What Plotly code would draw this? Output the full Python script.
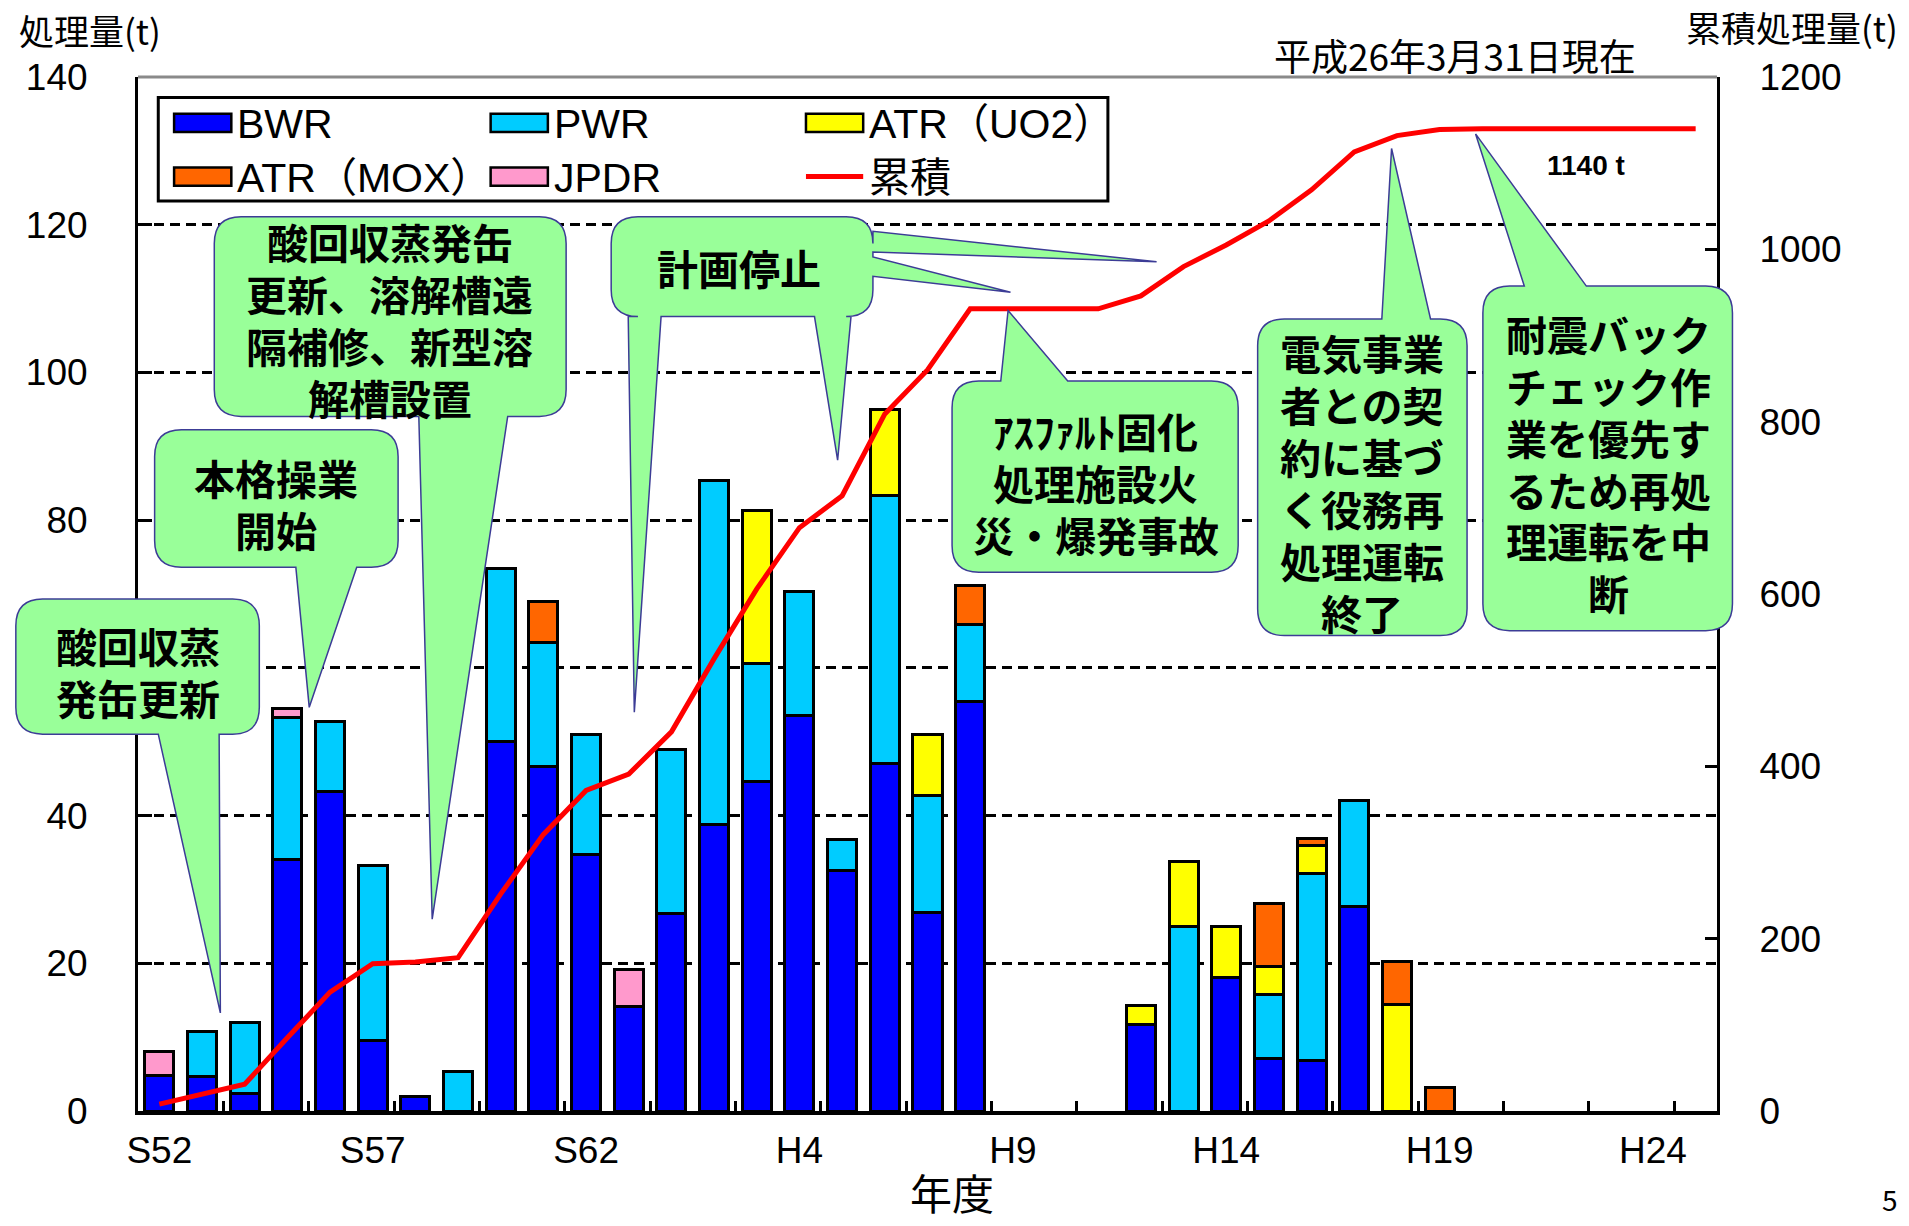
import plotly.graph_objects as go

# ---------------- data ----------------
fiscal_years = ["S52", "S53", "S54", "S55", "S56", "S57", "S58", "S59", "S60", "S61", "S62", "S63",
                "H1", "H2", "H3", "H4", "H5", "H6", "H7", "H8", "H9", "H10", "H11", "H12", "H13",
                "H14", "H15", "H16", "H17", "H18", "H19", "H20", "H21", "H22", "H23", "H24", "H25"]

bwr = [4.8, 4.7, 2.4, 34.1, 43.3, 9.5, 1.9, 0, 50.0, 46.6, 34.7, 14.2,
       26.8, 38.8, 44.6, 53.6, 32.6, 47.0, 26.9, 55.5, 0, 0, 0, 11.7, 0,
       18.1, 7.1, 6.8, 27.7, 0, 0, 0, 0, 0, 0, 0, 0]
pwr = [0, 6.1, 9.6, 19.2, 9.4, 23.7, 0, 5.3, 23.4, 16.8, 16.3, 0,
       22.1, 46.6, 16.0, 16.8, 4.2, 36.3, 15.8, 10.4, 0, 0, 0, 0, 25.0,
       0, 8.7, 25.3, 14.3, 0, 0, 0, 0, 0, 0, 0, 0]
atr_uo2 = [0, 0, 0, 0, 0, 0, 0, 0, 0, 0, 0, 0,
           0, 0, 20.7, 0, 0, 11.7, 8.3, 0, 0, 0, 0, 2.6, 8.8,
           6.9, 3.8, 3.8, 0, 14.4, 0, 0, 0, 0, 0, 0, 0]
atr_mox = [0, 0, 0, 0, 0, 0, 0, 0, 0, 5.6, 0, 0,
           0, 0, 0, 0, 0, 0, 0, 5.2, 0, 0, 0, 0, 0,
           0, 8.5, 1.0, 0, 5.8, 3.2, 0, 0, 0, 0, 0, 0]
jpdr = [3.3, 0, 0, 1.2, 0, 0, 0, 0, 0, 0, 0, 4.9,
        0, 0, 0, 0, 0, 0, 0, 0, 0, 0, 0, 0, 0,
        0, 0, 0, 0, 0, 0, 0, 0, 0, 0, 0, 0]
cumulative = [8, 19, 31, 85, 138, 171, 173, 178, 252, 321, 372, 391,
              440, 525, 606, 677, 714, 809, 860, 931, 931, 931, 931, 946, 980,
              1005, 1033, 1069, 1113, 1132, 1139, 1140, 1140, 1140, 1140, 1140, 1140]

label_years = ["S52", "S57", "S62", "H4", "H9", "H14", "H19", "H24"]
left_ticks = [0, 20, 40, 60, 80, 100, 120, 140]
left_ticktext = ["0", "20", "40", "", "80", "100", "120", "140"]  # "60" is hidden behind a callout in the reference
right_ticks = [0, 200, 400, 600, 800, 1000, 1200]

series = [("BWR", bwr, "#0000FF"), ("PWR", pwr, "#00CCFF"), ("ATR（UO2）", atr_uo2, "#FFFF00"),
          ("ATR（MOX）", atr_mox, "#FF6600"), ("JPDR", jpdr, "#FF99CC")]
LINE_COLOR = "#FF0000"

# ---------------- geometry helpers ----------------
W, H = 1909, 1226
PL, PR, PT, PB = 138, 1717, 77, 1111
S = 1909 / 1568.0  # reference shrink factor


def px(xs):
    return (xs * S - PL) / (PR - PL)


def py(ys):
    return (PB - ys * S) / (PB - PT)


def bubble_path(x0, y0, x1, y1, r, top=(), bottom=(), right=()):
    d = []

    def P(x, y):
        return f"{px(x):.5f},{py(y):.5f}"

    d.append("M" + P(x0 + r, y0))
    for a, b, tx, ty in sorted(top):
        d.append("L" + P(a, y0)); d.append("L" + P(tx, ty)); d.append("L" + P(b, y0))
    d.append("L" + P(x1 - r, y0))
    d.append("Q" + P(x1, y0) + " " + P(x1, y0 + r))
    for a, b, tx, ty in sorted(right):
        d.append("L" + P(x1, a)); d.append("L" + P(tx, ty)); d.append("L" + P(x1, b))
    d.append("L" + P(x1, y1 - r))
    d.append("Q" + P(x1, y1) + " " + P(x1 - r, y1))
    for a, b, tx, ty in sorted(bottom, reverse=True):
        d.append("L" + P(b, y1)); d.append("L" + P(tx, ty)); d.append("L" + P(a, y1))
    d.append("L" + P(x0 + r, y1))
    d.append("Q" + P(x0, y1) + " " + P(x0, y1 - r))
    d.append("L" + P(x0, y0 + r))
    d.append("Q" + P(x0, y0) + " " + P(x0 + r, y0))
    d.append("Z")
    return " ".join(d)


# ---------------- figure ----------------
fig = go.Figure()
xs = list(range(len(fiscal_years)))
for name, vals, col in series:
    fig.add_trace(go.Bar(
        x=xs, y=[v if v else None for v in vals], name=name,
        marker=dict(color=col, line=dict(color="black", width=3)),
        showlegend=False, yaxis="y"))

fig.add_trace(go.Scatter(
    x=xs, y=cumulative, name="累積", mode="lines",
    line=dict(color=LINE_COLOR, width=5), showlegend=False, yaxis="y2"))

FONT_LAT = "Liberation Sans, Arial, Noto Sans CJK JP"
FONT_JP = "Noto Sans CJK JP, Liberation Sans"

fig.update_layout(
    width=W, height=H,
    margin=dict(l=PL, r=W - PR, t=PT, b=H - PB, autoexpand=False),
    paper_bgcolor="white", plot_bgcolor="white",
    barmode="stack", bargap=0.32,
    font=dict(family=FONT_LAT, color="black", size=37),
    xaxis=dict(range=[-0.5, 36.5],
               tickvals=[fiscal_years.index(t) for t in label_years], ticktext=label_years,
               ticks="", showline=True, linecolor="black", linewidth=4,
               showgrid=False, zeroline=False, tickfont=dict(size=37, family=FONT_LAT),
               ticklabelstandoff=4,
               minor=dict(tickvals=[i + 1.5 for i in range(0, 35, 2)], ticks="inside",
                          ticklen=10, tickwidth=3, tickcolor="black", showgrid=False)),
    yaxis=dict(range=[0, 140], tickvals=left_ticks, ticktext=left_ticktext,
               ticks="inside", ticklen=14, tickwidth=3,
               tickcolor="black", showline=True, linecolor="black", linewidth=3,
               showgrid=True, gridcolor="black", gridwidth=2.5, griddash="10px,6px",
               zeroline=False, tickfont=dict(size=37, family=FONT_LAT), ticklabelstandoff=40),
    yaxis2=dict(range=[0, 1200], tickvals=right_ticks, overlaying="y", side="right",
                ticks="inside", ticklen=12, tickwidth=3, tickcolor="black",
                showline=True, linecolor="black", linewidth=3, showgrid=False, zeroline=False,
                tickfont=dict(size=37, family=FONT_LAT), ticklabelstandoff=32),
)

shapes = []
# gray top border
shapes.append(dict(type="line", xref="paper", yref="paper", x0=0, x1=1, y0=1, y1=1,
                   line=dict(color="#8a8a8a", width=3), layer="above"))

GREEN = "#99FF99"
EDGE = "#3c3c96"
bubbles = [
    dict(box=(13, 492, 213, 603), bottom=[(130, 180, 181, 832)]),
    dict(box=(127, 353, 327, 466), bottom=[(243, 293, 254, 581)]),
    dict(box=(176, 178, 465, 342), bottom=[(344, 417, 355, 755)]),
    dict(box=(502, 178, 717, 260), bottom=[(516, 543, 521, 585), (669, 699, 688, 378)],
         right=[(190, 207, 950, 215), (211, 227, 830, 240)]),
    dict(box=(782, 313, 1017, 470), top=[(822, 877, 828, 255)]),
    dict(box=(1033, 262, 1205, 522), top=[(1135, 1175, 1143, 122)]),
    dict(box=(1218, 235, 1423, 518), top=[(1252, 1303, 1212, 110)]),
]
for b in bubbles:
    x0, y0, x1, y1 = b["box"]
    path = bubble_path(x0, y0, x1, y1, 22, top=b.get("top", ()), bottom=b.get("bottom", ()),
                       right=b.get("right", ()))
    shapes.append(dict(type="path", xref="paper", yref="paper", path=path,
                       fillcolor=GREEN, line=dict(color=EDGE, width=1.5), layer="above"))

# legend box + symbols
shapes.append(dict(type="rect", xref="paper", yref="paper", x0=px(130), x1=px(910),
                   y0=py(165), y1=py(80), fillcolor="white",
                   line=dict(color="black", width=3), layer="above"))
leg_cols = [143, 403, 662]
leg_rows = [101, 145]
legend_items = [(series[0][0], series[0][2], "bar"), (series[1][0], series[1][2], "bar"),
                (series[2][0], series[2][2], "bar"), (series[3][0], series[3][2], "bar"),
                (series[4][0], series[4][2], "bar"), ("累積", LINE_COLOR, "line")]
annotations = []
for i, (name, col, kind) in enumerate(legend_items):
    cx = leg_cols[i % 3]
    cy = leg_rows[i // 3]
    if kind == "bar":
        shapes.append(dict(type="rect", xref="paper", yref="paper", x0=px(cx), x1=px(cx + 47),
                           y0=py(cy + 7.5), y1=py(cy - 7.5), fillcolor=col,
                           line=dict(color="black", width=2.5), layer="above"))
    else:
        shapes.append(dict(type="line", xref="paper", yref="paper", x0=px(cx), x1=px(cx + 47),
                           y0=py(cy), y1=py(cy), line=dict(color=col, width=5), layer="above"))
    annotations.append(dict(xref="paper", yref="paper", x=px(cx + 50), y=py(cy + 1),
                            xanchor="left", yanchor="middle", text=name, showarrow=False,
                            font=dict(size=41, family=FONT_LAT, color="black")))

LINE_STEP = 42.6
bubble_texts = [
    (["酸回収蒸", "発缶更新"], 113, 551),
    (["本格操業", "開始"], 227, 413),
    (["酸回収蒸発缶", "更新、溶解槽遠", "隔補修、新型溶", "解槽設置"], 320, 262),
    (["計画停止"], 607, 219),
    (["ｱｽﾌｧﾙﾄ固化", "処理施設火", "災・爆発事故"], 900, 396),
    (["電気事業", "者との契", "約に基づ", "く役務再", "処理運転", "終了"], 1119, 396),
    (["耐震バック", "チェック作", "業を優先す", "るため再処", "理運転を中", "断"], 1321, 380),
]
for lines, cx, cy in bubble_texts:
    n = len(lines)
    for k, line in enumerate(lines):
        yy = cy + (k - (n - 1) / 2.0) * LINE_STEP
        annotations.append(dict(xref="paper", yref="paper", x=px(cx), y=py(yy),
                                xanchor="center", yanchor="middle", align="center",
                                valign="middle", height=48,
                                text="<b>" + line + "</b>", showarrow=False,
                                font=dict(size=41, family=FONT_JP, color="black")))

other_texts = [
    ("処理量(t)", 14, 24, "left", 35),
    ("累積処理量(t)", 1383, 22, "left", 35),
    ("平成26年3月31日現在", 1195, 45, "center", 37),
    ("年度", 782, 979, "center", 42),
    ("5", 1552, 985, "center", 28),
]
for txt, x, y, anc, size in other_texts:
    annotations.append(dict(xref="paper", yref="paper", x=px(x), y=py(y), xanchor=anc,
                            yanchor="middle", text=txt, showarrow=False,
                            font=dict(size=size, family=FONT_JP, color="black")))
annotations.append(dict(xref="paper", yref="paper", x=px(1303), y=py(136), xanchor="center",
                        yanchor="middle", text="<b>1140 t</b>", showarrow=False,
                        font=dict(size=28, family=FONT_LAT, color="black")))

fig.update_layout(shapes=shapes, annotations=annotations)
fig.write_html("out.html", config={"displayModeBar": False},
               post_script="document.body.style.margin='0px';")
